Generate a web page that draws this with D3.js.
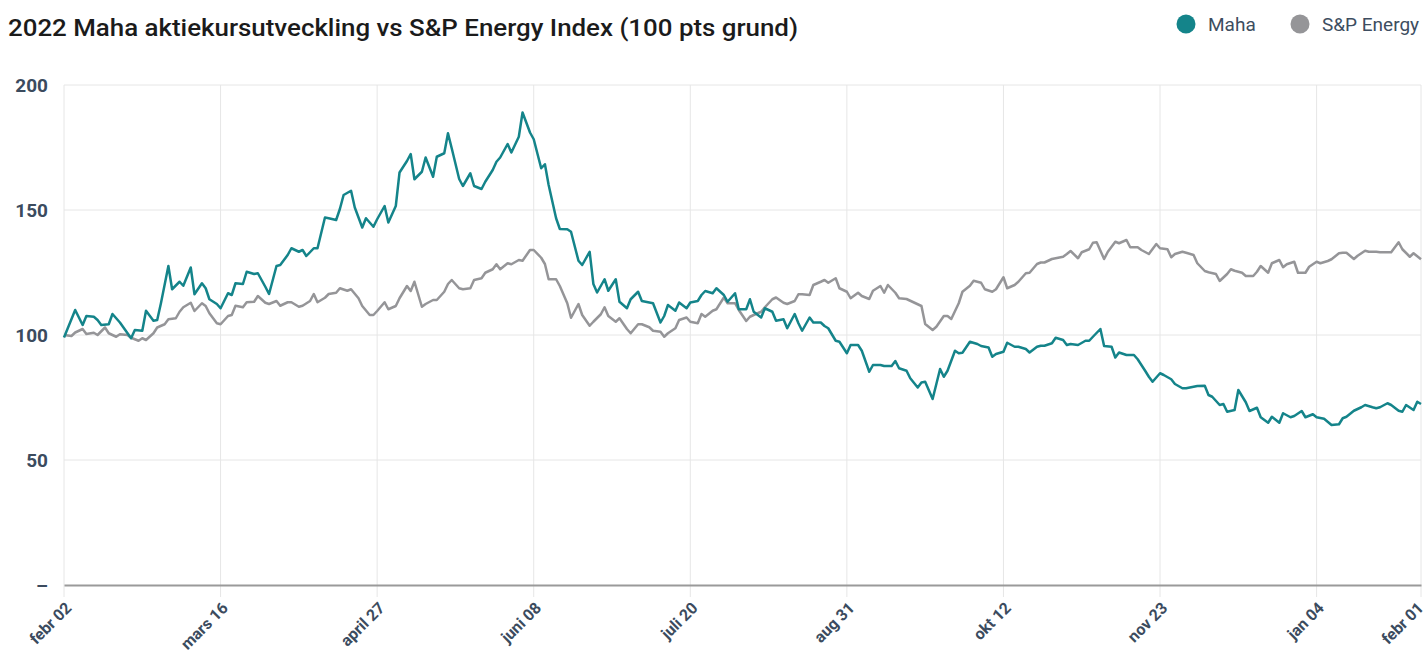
<!DOCTYPE html>
<meta charset="utf-8">
<style>

body {
  margin: 0;
  background: #fff;
}

text {
  font-family: Roboto, "Open Sans", sans-serif;
}

.grid line {
  stroke: #e6e6e6;
  stroke-width: 1;
}

.axis text {
  fill: #3b4b5e;
  font-weight: 700;
}

.line {
  fill: none;
  stroke-width: 2.5;
  stroke-linejoin: round;
}

</style>
<svg width="1428" height="652"></svg>
<script src="https://d3js.org/d3.v7.min.js" charset="utf-8"></script>
<script>

// days after 2022-02-02, index value (100 = start)
var startDate = new Date(2022, 1, 2);

var mahaDays = [0,3,5,6,8,9,10,12,13,15,18,19,21,22,24,25,26,28,29,31,32,34,35,37,38,39,41,42,44,45,46,48,49,51,52,54,55,57,58,60,61,63,64,65,67,68,70,71,73,74,75,77,78,80,81,83,84,86,87,89,90,92,93,94,96,97,99,100,102,103,104,106,107,109,110,112,113,115,116,117,119,120,122,123,125,126,128,129,130,132,133,135,136,138,139,141,142,143,145,146,148,149,151,152,154,155,157,158,160,161,162,164,165,167,168,170,171,172,174,175,177,178,180,181,183,184,185,187,188,190,191,193,194,196,197,198,200,201,203,204,205,207,208,210,211,213,214,216,217,219,220,222,223,224,226,227,229,230,231,233,235,236,237,239,240,241,243,245,246,248,249,250,252,253,255,256,258,259,261,262,263,265,266,268,269,270,272,274,275,276,278,279,281,282,283,285,287,288,290,291,292,294,295,297,298,300,301,303,304,306,307,308,310,311,312,314,315,317,318,320,321,323,324,326,327,329,330,332,333,335,336,338,340,342,343,344,346,348,349,351,352,353,355,356,358,359,360,362,363,364];
var mahaValues = [99,110,104,107.6,107.3,106,104,104.3,108.4,105,98.7,102,101.7,109.7,105.7,106,112.7,127.6,118.3,121.3,119.7,127,116.3,120.7,118.7,114.3,112.4,110.7,116.7,116,120.7,120.4,125.3,124.4,124.7,119.3,116.4,127.6,128,132,134.7,133.3,134,131.6,134.7,134.7,147,146.7,146,150.4,156,157.7,151,143,146.7,143.3,146.3,151.6,145,151.6,165,169.6,172.4,162.3,165.3,171,163.3,171.3,172.7,180.7,174.7,162.4,159.6,164.7,159.6,158.4,161.3,166,169.3,171,176.4,173,179.3,189,181,178.3,166.7,168.3,160,146.7,142.4,142.3,141.3,129.7,128,133.3,120.4,117,122.3,117.7,122.3,113.3,110.7,114.3,117.3,113.6,113,112.7,105,107.6,112,109.7,113,110.7,113,113.6,116,117.6,116.7,118.7,116,113.3,116.7,110.3,110.3,114.3,109.3,107,110.7,109.3,105.7,106.3,102.7,108.4,104.7,101.7,107,105,105,103.6,102.7,97.7,97.3,92.7,96,96,93.7,85.3,88,88,87.6,87.6,89.6,86.7,85.7,82.7,79,81,81.3,74.4,86.4,83.3,85.7,93.7,92.7,92.9,97.3,96.4,95.6,95,91.3,92.4,93.3,96.9,95.3,95.3,94.4,93,95.3,95.7,95.7,96.7,98.9,98,96,96.4,96,97.7,97.7,99.3,102.4,95.6,95.3,91,93,92,92,90.3,85.7,83.3,81.3,84.7,84,82.3,80.4,78.7,78.7,79.3,79.6,79.7,76,75.3,72,72.4,69.3,70,78,73.1,69.6,70.9,67.1,64.9,67.3,64.9,68.7,67.1,67.6,69.6,67.1,68.3,67.1,66.5,64,64.3,66.7,67.3,69.7,71.1,72,71.1,70.7,71.1,72.7,72,69.7,69.3,72,70,73.3,72.4];

var spDays = [0,2,3,5,6,8,9,11,12,14,15,17,18,20,21,22,24,25,27,28,30,31,32,34,35,37,38,39,41,42,44,45,46,48,49,51,52,54,55,57,58,60,61,63,64,66,67,68,70,71,73,74,76,77,79,80,82,83,84,86,87,89,90,92,93,94,96,97,99,100,102,103,104,106,107,109,110,112,113,115,116,117,119,120,122,123,125,126,128,129,130,132,133,135,136,138,139,141,142,144,145,146,148,149,151,152,154,155,157,158,160,161,162,164,165,167,168,170,171,172,174,175,177,178,180,181,183,184,185,187,188,190,191,193,194,196,197,198,200,201,203,204,205,207,208,210,211,213,214,216,217,219,220,221,223,224,226,227,229,230,231,233,234,236,237,238,240,241,243,244,246,247,249,250,252,253,255,256,258,259,261,262,263,265,266,268,269,270,272,273,275,276,277,279,280,282,283,285,286,288,289,291,293,294,296,297,298,300,301,303,304,306,307,309,310,312,313,314,316,317,319,320,321,323,324,326,327,328,330,331,333,334,336,337,339,340,342,343,344,346,347,349,350,352,353,355,356,358,359,361,362,364];
var spValues = [100,99.6,101,102.4,100.4,100.9,100,103,100.7,99.3,100.3,100,98.9,97.7,98.7,98,100.7,103,104.3,106.3,106.7,109.3,111.1,112.9,109.6,112.7,111.6,108.7,104.7,104.3,107.6,108,111.7,111.1,113.1,113.3,115.6,112.9,112.4,113.6,111.7,113.1,113.1,111.3,111.7,113.6,116.4,113.1,114.9,116.4,116.9,118.7,117.7,118.3,114.7,111.6,108,108,109.6,113.1,110.3,111.6,114.7,119.6,117.6,121.3,111.3,112.4,114,114,117.3,120.4,122,118.7,118.3,118.7,122,122.7,124.9,126.3,128.3,126.3,128.7,128.3,130,129.7,134,134,130.9,128.4,122.3,122.3,119.6,112.7,106.9,112.4,108,103.7,105.3,108.3,111.1,107.6,105.3,106.7,102.4,100.7,104.3,104.3,103.1,101.7,101.3,99.3,100.7,102.7,106,107,105.3,104.7,108.4,107.3,109.7,110.3,115,112.7,112.7,110,105.6,107.3,108,109.3,111.1,114.3,115,112.9,112.4,113.6,116.3,116.3,116,120,121.3,122,120.9,122.7,118.7,117.3,114.7,116.9,115.6,114.4,117.7,119.6,116.9,120,116.9,114.7,114.4,113.7,112.3,111.6,104.4,102,103.3,107.6,107.6,106.4,112.7,117.3,119.7,121.7,120.9,118.3,117.3,118.3,123.1,118.7,120,121.3,124.7,124.9,128.4,129,129,130.4,130.7,131.3,132.4,133.6,130.7,133.1,134.3,136.9,137.1,130.4,133.3,137.3,136.7,138,135.1,135.1,134,132.4,136.4,134.7,134.3,131.1,132.4,133.3,132.9,132,128.7,125.6,125.1,124.4,121.6,124.4,126.3,125.7,124.9,123.6,123.6,125.3,127.6,124.9,128.7,130,127.1,128.3,129.3,124.9,124.9,127.3,129.3,128.7,129.6,130.3,132.7,132.9,132.9,130.4,131.7,133.7,133.3,133.3,133.1,133.1,133.1,137.1,134.3,131.3,132.7,130.3];

var tickDays = [0,42,84,126,168,210,252,294,336,364];
var tickLabels = ["febr 02","mars 16","april 27","juni 08","juli 20","aug 31","okt 12","nov 23","jan 04","febr 01"];
var yTicks = [0,50,100,150,200];
var yTickLabels = ["–","50","100","150","200"];

var seriesNames = ["Maha","S&P Energy"];
var seriesColors = ["#14848a","#959598"];

var svg = d3.select("svg"),
    margin = {top: 85, right: 7, bottom: 67, left: 64},
    width = +svg.attr("width") - margin.left - margin.right,
    height = +svg.attr("height") - margin.top - margin.bottom;

function toDate(d) { return d3.timeDay.offset(startDate, d); }

var x = d3.scaleTime()
    .domain([toDate(0), toDate(364)])
    .range([0, width]);
var y = d3.scaleLinear()
    .domain([0, 200])
    .range([height, 0]);

var g = svg.append("g")
    .attr("transform", "translate(" + margin.left + "," + margin.top + ")");

// title
svg.append("text")
    .attr("x", 8)
    .attr("y", 36)
    .attr("fill", "#1b1b1b")
    .style("font-size", "24px")
    .style("font-weight", 500)
    .attr("textLength", 790)
    .attr("lengthAdjust", "spacingAndGlyphs")
    .text("2022 Maha aktiekursutveckling vs S&P Energy Index (100 pts grund)");

// legend
var legendX = [1186, 1300];
seriesNames.forEach(function(name, i) {
  svg.append("circle")
      .attr("cx", legendX[i])
      .attr("cy", 24)
      .attr("r", 9.5)
      .attr("fill", seriesColors[i]);
  svg.append("text")
      .attr("x", legendX[i] + 22)
      .attr("y", 31)
      .attr("fill", "#3d4d60")
      .style("font-size", "19px")
      .text(name);
});

// horizontal grid
g.append("g")
    .attr("class", "grid")
  .selectAll("line")
  .data(yTicks.slice(1))
  .enter().append("line")
    .attr("x1", 0)
    .attr("x2", width)
    .attr("y1", function(d) { return y(d); })
    .attr("y2", function(d) { return y(d); });

// vertical grid (extends below as tick marks)
g.append("g")
    .attr("class", "grid")
  .selectAll("line")
  .data(tickDays)
  .enter().append("line")
    .attr("x1", function(d) { return x(toDate(d)); })
    .attr("x2", function(d) { return x(toDate(d)); })
    .attr("y1", 0)
    .attr("y2", height + 12);

// y axis
var yAxis = g.append("g")
    .attr("class", "axis axis--y")
    .call(d3.axisLeft(y).tickValues(yTicks).tickSize(0).tickPadding(16)
      .tickFormat(function(d, i) { return yTickLabels[i]; }));
yAxis.select(".domain").remove();
yAxis.selectAll("text").style("font-size", "19px");

// x axis
var xAxis = g.append("g")
    .attr("class", "axis axis--x")
    .attr("transform", "translate(0," + height + ")")
    .call(d3.axisBottom(x).tickValues(tickDays.map(toDate)).tickSize(0)
      .tickFormat(function(d, i) { return tickLabels[i]; }));
xAxis.select(".domain")
    .attr("stroke", "#9a9a9a")
    .attr("stroke-width", 2);
xAxis.selectAll("text")
    .style("font-size", "16px")
    .attr("text-anchor", "end")
    .attr("dy", null)
    .attr("y", null)
    .attr("transform", function(d, i) {
      return "translate(" + (i === tickDays.length - 1 ? 3 : 8) + ",24) rotate(-45)";
    });

// lines
var line = d3.line()
    .x(function(d) { return x(toDate(d[0])); })
    .y(function(d) { return y(d[1]); });

var spData = d3.zip(spDays, spValues);
var mahaData = d3.zip(mahaDays, mahaValues);

g.append("path")
    .datum(spData)
    .attr("class", "line")
    .attr("stroke", seriesColors[1])
    .attr("d", line);

g.append("path")
    .datum(mahaData)
    .attr("class", "line")
    .attr("stroke", seriesColors[0])
    .attr("d", line);

</script>
